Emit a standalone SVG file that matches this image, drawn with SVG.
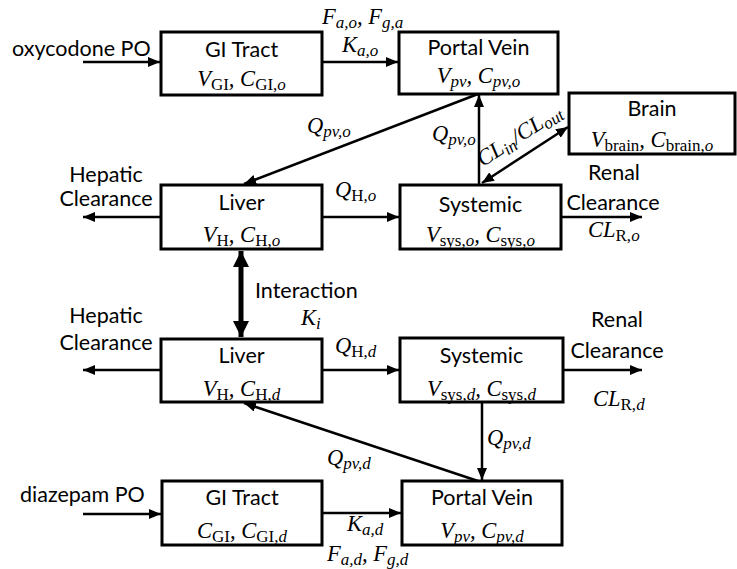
<svg xmlns="http://www.w3.org/2000/svg" width="737" height="569" viewBox="0 0 737 569">
<style>
.box{fill:#fff;stroke:#000;stroke-width:3}
.t{font-family:"Lato","Open Sans","Liberation Sans",sans-serif;font-size:21.5px;fill:#000}
.m{font-family:"Liberation Serif","DejaVu Serif",serif;font-style:italic;font-size:22.5px;fill:#000}
.m tspan{font-size:17px}
.m tspan.n{font-size:22.5px}
.r{font-style:normal}
.ln{stroke:#000;stroke-width:2.5;fill:none}
.thick{stroke:#000;stroke-width:5;fill:none}
</style>
<defs>
<marker id="ah" markerUnits="userSpaceOnUse" markerWidth="14" markerHeight="12" refX="12" refY="5" orient="auto-start-reverse" viewBox="0 0 14 12">
<path d="M0,0 L12,5 L0,10 Z" fill="#000"/>
</marker>
<marker id="ahb" markerUnits="userSpaceOnUse" markerWidth="20" markerHeight="18" refX="16" refY="8" orient="auto-start-reverse" viewBox="0 0 20 18">
<path d="M0,0 L16,8 L0,16 Z" fill="#000"/>
</marker>
</defs>

<g id="connectors">
<line class="ln" x1="83" y1="62" x2="160" y2="62" marker-end="url(#ah)"/>
<line class="ln" x1="322" y1="62" x2="398" y2="62" marker-end="url(#ah)"/>
<line class="ln" x1="478" y1="94" x2="244" y2="184" marker-end="url(#ah)"/>
<line class="ln" x1="479" y1="185" x2="479" y2="95" marker-end="url(#ah)"/>
<line class="ln" x1="482" y1="183" x2="568" y2="127" marker-start="url(#ah)" marker-end="url(#ah)"/>
<line class="ln" x1="322" y1="217" x2="399" y2="217" marker-end="url(#ah)"/>
<line class="ln" x1="161" y1="217" x2="83" y2="217" marker-end="url(#ah)"/>
<line class="ln" x1="561" y1="217" x2="642" y2="217" marker-end="url(#ah)"/>
<line class="thick" x1="241" y1="251" x2="241" y2="337" marker-start="url(#ahb)" marker-end="url(#ahb)"/>
<line class="ln" x1="161" y1="370" x2="83" y2="370" marker-end="url(#ah)"/>
<line class="ln" x1="322" y1="370" x2="399" y2="370" marker-end="url(#ah)"/>
<line class="ln" x1="563" y1="370" x2="642" y2="370" marker-end="url(#ah)"/>
<line class="ln" x1="482" y1="402" x2="482" y2="480" marker-end="url(#ah)"/>
<line class="ln" x1="478" y1="481" x2="244" y2="403" marker-end="url(#ah)"/>
<line class="ln" x1="83" y1="514" x2="161" y2="514" marker-end="url(#ah)"/>
<line class="ln" x1="322" y1="513" x2="401" y2="513" marker-end="url(#ah)"/>
</g>

<g id="gi_o">
<rect class="box" x="161" y="32" width="161" height="63"/>
<text class="t" x="241.5" y="57" text-anchor="middle">GI Tract</text>
<text class="m" x="241.5" y="86" text-anchor="middle">V<tspan class="r" dy="4">GI</tspan><tspan class="n" dy="-4">, C</tspan><tspan class="r" dy="4">GI,</tspan><tspan>o</tspan></text>
</g>

<g id="pv_o">
<rect class="box" x="399" y="32" width="159" height="62"/>
<text class="t" x="478.5" y="55" text-anchor="middle">Portal Vein</text>
<text class="m" x="478.5" y="83" text-anchor="middle">V<tspan dy="4">pv</tspan><tspan class="n" dy="-4">, C</tspan><tspan dy="4">pv,o</tspan></text>
</g>

<g id="brain">
<rect class="box" x="569" y="93" width="166" height="61"/>
<text class="t" x="652" y="116" text-anchor="middle">Brain</text>
<text class="m" x="652" y="147" text-anchor="middle">V<tspan class="r" dy="4">brain</tspan><tspan class="n" dy="-4">, C</tspan><tspan class="r" dy="4">brain,</tspan><tspan>o</tspan></text>
</g>

<g id="liver_o">
<rect class="box" x="161" y="185" width="161" height="64"/>
<text class="t" x="241.5" y="210" text-anchor="middle">Liver</text>
<text class="m" x="241.5" y="242" text-anchor="middle">V<tspan class="r" dy="4">H</tspan><tspan class="n" dy="-4">, C</tspan><tspan class="r" dy="4">H,</tspan><tspan>o</tspan></text>
</g>

<g id="sys_o">
<rect class="box" x="400" y="185" width="161" height="64"/>
<text class="t" x="480.5" y="212" text-anchor="middle">Systemic</text>
<text class="m" x="480.5" y="242" text-anchor="middle">V<tspan class="r" dy="4">sys,</tspan><tspan>o</tspan><tspan class="n" dy="-4">, C</tspan><tspan class="r" dy="4">sys,</tspan><tspan>o</tspan></text>
</g>

<g id="liver_d">
<rect class="box" x="161" y="339" width="161" height="63"/>
<text class="t" x="241.5" y="363" text-anchor="middle">Liver</text>
<text class="m" x="241.5" y="396" text-anchor="middle">V<tspan class="r" dy="4">H</tspan><tspan class="n" dy="-4">, C</tspan><tspan class="r" dy="4">H,</tspan><tspan>d</tspan></text>
</g>

<g id="sys_d">
<rect class="box" x="400" y="338" width="163" height="64"/>
<text class="t" x="481.5" y="363" text-anchor="middle">Systemic</text>
<text class="m" x="481.5" y="396" text-anchor="middle">V<tspan class="r" dy="4">sys,</tspan><tspan>d</tspan><tspan class="n" dy="-4">, C</tspan><tspan class="r" dy="4">sys,</tspan><tspan>d</tspan></text>
</g>

<g id="gi_d">
<rect class="box" x="162" y="481" width="160" height="64"/>
<text class="t" x="242" y="505" text-anchor="middle">GI Tract</text>
<text class="m" x="242" y="538" text-anchor="middle">C<tspan class="r" dy="4">GI</tspan><tspan class="n" dy="-4">, C</tspan><tspan class="r" dy="4">GI,</tspan><tspan>d</tspan></text>
</g>

<g id="pv_d">
<rect class="box" x="402" y="481" width="160" height="64"/>
<text class="t" x="482" y="505" text-anchor="middle">Portal Vein</text>
<text class="m" x="482" y="538" text-anchor="middle">V<tspan dy="4">pv</tspan><tspan class="n" dy="-4">, C</tspan><tspan dy="4">pv,d</tspan></text>
</g>

<g id="labels">
<text class="t" x="12" y="56">oxycodone PO</text>
<text class="t" x="20" y="502">diazepam PO</text>
<text class="m" x="322" y="24">F<tspan dy="4">a,o</tspan><tspan class="n" dy="-4">, F</tspan><tspan dy="4">g,a</tspan></text>
<text class="m" x="342" y="52">K<tspan dy="4">a,o</tspan></text>
<text class="m" x="307" y="133">Q<tspan dy="4">pv,o</tspan></text>
<text class="m" x="432" y="141">Q<tspan dy="4">pv,o</tspan></text>
<text class="m" x="0" y="0" text-anchor="middle" transform="translate(523,141) rotate(-33)">CL<tspan dy="4">in</tspan><tspan class="n" dy="-4">/CL</tspan><tspan dy="4">out</tspan></text>
<text class="m" x="335" y="197">Q<tspan class="r" dy="4">H,</tspan><tspan>o</tspan></text>
<text class="t" x="106" y="182" text-anchor="middle">Hepatic</text>
<text class="t" x="106" y="206" text-anchor="middle">Clearance</text>
<text class="t" x="614" y="180" text-anchor="middle">Renal</text>
<text class="t" x="613" y="210" text-anchor="middle">Clearance</text>
<text class="m" x="588" y="237">CL<tspan class="r" dy="4">R,</tspan><tspan>o</tspan></text>
<text class="t" x="255" y="298">Interaction</text>
<text class="m" x="301" y="325">K<tspan dy="4">i</tspan></text>
<text class="t" x="106" y="323" text-anchor="middle">Hepatic</text>
<text class="t" x="106" y="350" text-anchor="middle">Clearance</text>
<text class="m" x="335" y="353">Q<tspan class="r" dy="4">H,</tspan><tspan>d</tspan></text>
<text class="t" x="617" y="327" text-anchor="middle">Renal</text>
<text class="t" x="617" y="358" text-anchor="middle">Clearance</text>
<text class="m" x="593" y="406">CL<tspan class="r" dy="4">R,</tspan><tspan>d</tspan></text>
<text class="m" x="487" y="445">Q<tspan dy="4">pv,d</tspan></text>
<text class="m" x="327" y="465">Q<tspan dy="4">pv,d</tspan></text>
<text class="m" x="347" y="531">K<tspan dy="4">a,d</tspan></text>
<text class="m" x="327" y="561">F<tspan dy="4">a,d</tspan><tspan class="n" dy="-4">, F</tspan><tspan dy="4">g,d</tspan></text>
</g>
</svg>
